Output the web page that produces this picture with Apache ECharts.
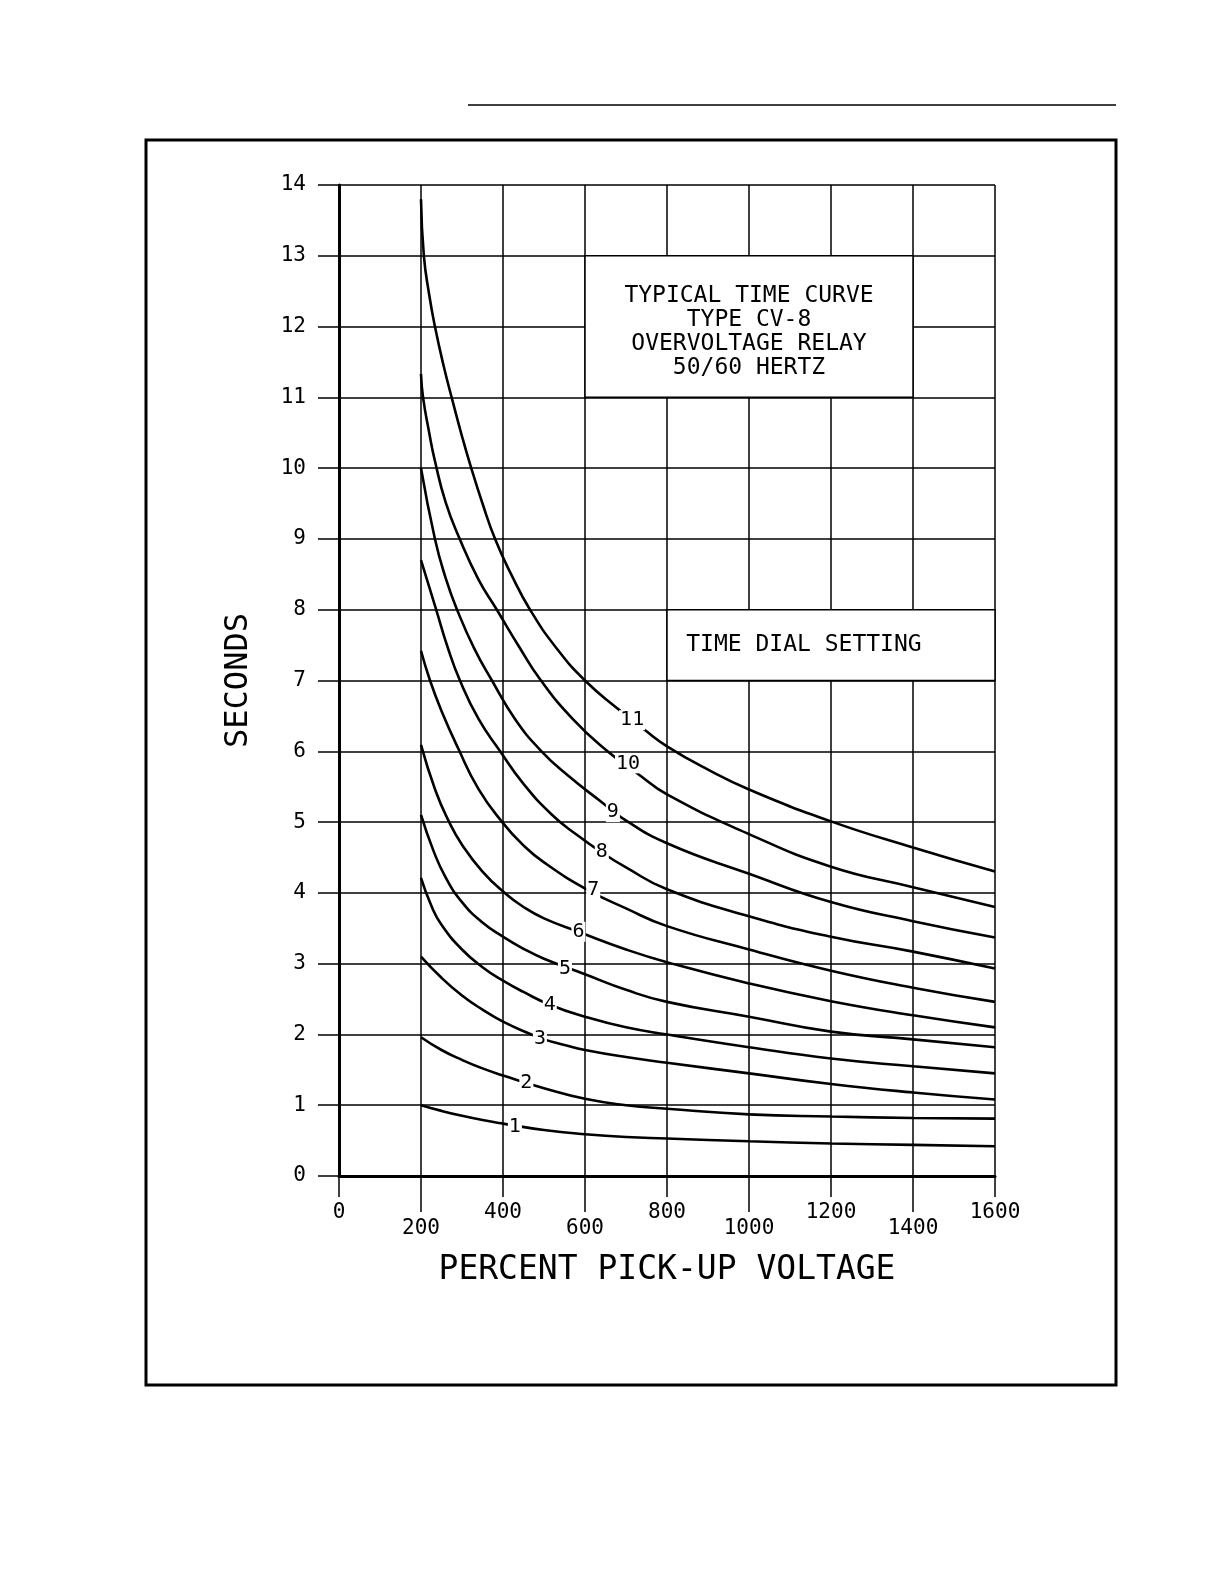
<!DOCTYPE html>
<html>
<head>
<meta charset="utf-8">
<script src="https://cdn.jsdelivr.net/npm/echarts@6/dist/echarts.min.js"></script>
<style>
html,body{margin:0;padding:0;background:#fff;}
#c{width:1224px;height:1582px;}
</style>
</head>
<body>
<div id="c"></div>
<script>
// ---- data ----
const xTicksUpper = [0, 400, 800, 1200, 1600];
const xTicksLower = [200, 600, 1000, 1400];
const yMin = 0, yMax = 14, yStep = 1;
const xMin = 0, xMax = 1600, xStep = 200;

const curve1 = [[200,1.0],[250,0.92],[300,0.85],[350,0.79],[400,0.74],[500,0.65],[600,0.59],[700,0.55],[800,0.53],[1000,0.49],[1200,0.46],[1400,0.44],[1600,0.42]];
const curve2 = [[200,1.96],[250,1.78],[300,1.64],[350,1.52],[400,1.42],[500,1.24],[600,1.09],[700,1.0],[800,0.95],[1000,0.87],[1200,0.84],[1400,0.82],[1600,0.81]];
const curve3 = [[200,3.1],[250,2.8],[300,2.55],[350,2.35],[400,2.18],[465,2.01],[500,1.93],[550,1.85],[600,1.78],[700,1.68],[800,1.6],[1000,1.45],[1200,1.3],[1400,1.18],[1600,1.08]];
const curve4 = [[200,4.21],[225,3.82],[250,3.55],[300,3.2],[350,2.95],[400,2.76],[450,2.6],[514,2.42],[600,2.25],[700,2.1],[800,2.0],[1000,1.82],[1200,1.66],[1400,1.55],[1600,1.45]];
const curve5 = [[200,5.1],[230,4.6],[260,4.22],[300,3.87],[350,3.58],[400,3.38],[450,3.21],[500,3.07],[600,2.85],[700,2.63],[800,2.46],[1000,2.25],[1200,2.04],[1400,1.93],[1600,1.82]];
const curve6 = [[200,6.09],[235,5.45],[267,5.02],[300,4.68],[350,4.3],[404,4.0],[450,3.8],[500,3.64],[584,3.45],[700,3.2],[800,3.02],[1000,2.72],[1200,2.47],[1400,2.27],[1600,2.1]];
const curve7 = [[200,7.42],[222,7.0],[250,6.57],[290,6.05],[340,5.47],[398,5.0],[450,4.67],[500,4.43],[604,4.05],[700,3.78],[800,3.53],[1000,3.2],[1200,2.9],[1400,2.66],[1600,2.46]];
const curve8 = [[200,8.7],[237,8.0],[265,7.47],[295,7.0],[340,6.46],[393,6.0],[450,5.54],[520,5.1],[580,4.82],[641,4.57],[700,4.36],[800,4.05],[1000,3.67],[1200,3.38],[1400,3.17],[1600,2.93]];
const curve9 = [[200,10.0],[234,9.0],[260,8.45],[288,8.0],[330,7.45],[373,7.0],[430,6.45],[494,6.0],[560,5.65],[641,5.28],[690,5.06],[800,4.7],[1000,4.27],[1200,3.87],[1400,3.6],[1600,3.37]];
const curve10 = [[200,11.33],[205,11.0],[220,10.5],[234,10.1],[260,9.52],[293,9.02],[340,8.43],[385,8.0],[440,7.47],[490,7.02],[571,6.45],[655,6.0],[727,5.69],[800,5.39],[1000,4.83],[1200,4.37],[1400,4.08],[1600,3.8]];
const curve11 = [[200,13.8],[207,13.0],[220,12.45],[234,12.0],[255,11.45],[277,10.95],[300,10.45],[320,10.05],[350,9.5],[382,8.98],[420,8.5],[466,8.0],[530,7.46],[600,7.0],[680,6.6],[746,6.3],[800,6.07],[900,5.74],[1000,5.46],[1200,5.01],[1400,4.64],[1600,4.3]];
const curves = [curve1, curve2, curve3, curve4, curve5, curve6, curve7, curve8, curve9, curve10, curve11];

const dialLabels = ['1','2','3','4','5','6','7','8','9','10','11'];
const dialLabelX = [429, 457, 490, 514, 551, 584, 620, 641, 668, 705, 715];
const dialLabelY = [0.69, 1.31, 1.94, 2.42, 2.93, 3.45, 4.04, 4.58, 5.14, 5.83, 6.44];

const titleLines = ['TYPICAL TIME CURVE', 'TYPE CV-8', 'OVERVOLTAGE RELAY', '50/60 HERTZ'];
const titleBox = [[600, 13], [1400, 11]];
const dialTitle = 'TIME DIAL SETTING';
const dialBox = [[800, 8], [1600, 7]];
const xName = 'PERCENT PICK-UP VOLTAGE';
const yName = 'SECONDS';

// ---- chart ----
const FONT = 'DejaVu Sans Mono';
const chart = echarts.init(document.getElementById('c'), null, {renderer: 'canvas'});

const lineSeries = curves.map((c, i) => ({
  type: 'line',
  name: 'TD ' + dialLabels[i],
  data: c,
  xAxisIndex: 0,
  smooth: 0.5,
  symbol: 'none',
  silent: true,
  animation: false,
  lineStyle: {color: '#000', width: 2.6},
  z: 3
}));

const boxSeries = {
  type: 'line',
  data: [],
  xAxisIndex: 0,
  silent: true,
  animation: false,
  z: 2,
  markArea: {
    silent: true,
    itemStyle: {color: '#fff', borderColor: '#000', borderWidth: 1.5},
    data: [
      [
        {xAxis: titleBox[0][0], yAxis: titleBox[0][1],
         label: {show: true, position: 'inside', formatter: titleLines.join('\n'),
                 fontFamily: FONT, fontSize: 23, lineHeight: 24, color: '#000', align: 'center',
                 offset: [0, 5]}},
        {xAxis: titleBox[1][0], yAxis: titleBox[1][1]}
      ],
      [
        {xAxis: dialBox[0][0], yAxis: dialBox[0][1],
         label: {show: true, position: 'insideLeft', distance: 20, formatter: dialTitle,
                 fontFamily: FONT, fontSize: 23, color: '#000'}},
        {xAxis: dialBox[1][0], yAxis: dialBox[1][1]}
      ]
    ]
  }
};

const labelSeries = {
  type: 'scatter',
  xAxisIndex: 0,
  data: dialLabelX.map((x, i) => [x, dialLabelY[i]]),
  symbolSize: 0,
  itemStyle: {color: '#000', opacity: 1},
  silent: true,
  animation: false,
  z: 5,
  label: {
    show: true,
    position: 'inside',
    formatter: p => dialLabels[p.dataIndex],
    fontFamily: FONT,
    fontSize: 20,
    color: '#000',
    opacity: 1,
    backgroundColor: '#fff',
    padding: [0, 1, 0, 1]
  }
};

const plainNum = v => String(v);

chart.setOption({
  backgroundColor: '#fff',
  animation: false,
  grid: {left: 339, top: 185, width: 656, height: 991, containLabel: false},
  xAxis: [
    {
      type: 'value', min: xMin, max: xMax, interval: xStep, position: 'bottom',
      name: xName, nameLocation: 'middle', nameGap: 78,
      nameTextStyle: {fontFamily: FONT, fontSize: 33, color: '#000'},
      axisLine: {show: true, onZero: false, lineStyle: {color: '#000', width: 3}},
      axisTick: {show: true, length: 21, customValues: xTicksUpper, lineStyle: {color: '#000', width: 1.5}},
      axisLabel: {show: true, customValues: xTicksUpper, margin: 26, fontFamily: FONT, fontSize: 21, color: '#000', formatter: plainNum},
      splitLine: {show: true, lineStyle: {color: '#000', width: 1.5}}
    },
    {
      type: 'value', min: xMin, max: xMax, interval: xStep, position: 'bottom',
      axisLine: {show: false},
      axisTick: {show: true, length: 36, customValues: xTicksLower, lineStyle: {color: '#000', width: 1.5}},
      axisLabel: {show: true, customValues: xTicksLower, margin: 42, fontFamily: FONT, fontSize: 21, color: '#000', formatter: plainNum},
      splitLine: {show: true, lineStyle: {color: '#000', width: 1.5}}
    }
  ],
  yAxis: {
    type: 'value', min: yMin, max: yMax, interval: yStep,
    name: yName, nameLocation: 'middle', nameGap: 84, nameRotate: 90,
    nameTextStyle: {fontFamily: FONT, fontSize: 32, color: '#000'},
    axisLine: {show: true, onZero: false, lineStyle: {color: '#000', width: 3}},
    axisTick: {show: true, length: 21, lineStyle: {color: '#000', width: 1.5}},
    axisLabel: {margin: 33, fontFamily: FONT, fontSize: 21, color: '#000', formatter: plainNum},
    splitLine: {show: true, lineStyle: {color: '#000', width: 1.5}}
  },
  graphic: [
    {type: 'rect', shape: {x: 146, y: 140, width: 970, height: 1245}, style: {fill: 'none', stroke: '#000', lineWidth: 3}, silent: true, z: 10},
    {type: 'line', shape: {x1: 468, y1: 105, x2: 1116, y2: 105}, style: {stroke: '#000', lineWidth: 1.5}, silent: true, z: 10}
  ],
  series: [boxSeries].concat(lineSeries).concat([labelSeries])
});
</script>
</body>
</html>
